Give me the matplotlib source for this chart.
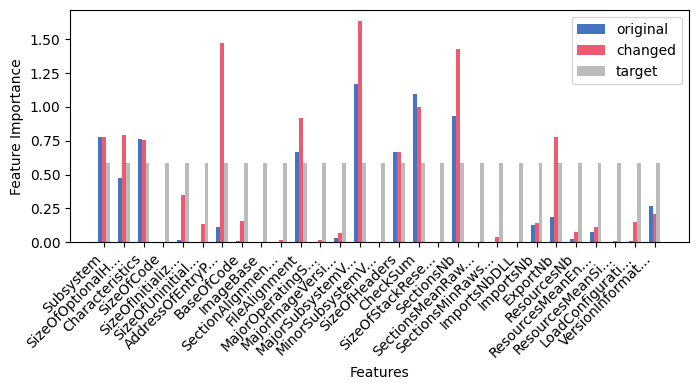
import matplotlib.pyplot as plt
import numpy as np

features = ["Subsystem", "SizeOfOptionalHeader", "Characteristics", "SizeOfCode",
            "SizeOfInitializedData", "SizeOfUninitializedData", "AddressOfEntryPoint",
            "BaseOfCode", "ImageBase", "SectionAlignment", "FileAlignment",
            "MajorOperatingSystemVersion", "MajorImageVersion", "MajorSubsystemVersion",
            "MinorSubsystemVersion", "SizeOfHeaders", "CheckSum", "SizeOfStackReserve",
            "SectionsNb", "SectionsMeanRawsize", "SectionsMinRawsize", "ImportsNbDLL",
            "ImportsNb", "ExportNb", "ResourcesNb", "ResourcesMeanEntropy",
            "ResourcesMeanSize", "LoadConfigurationSize", "VersionInformationSize"]

original = [0.777, 0.474, 0.762, 0.0, 0.017, 0.0, 0.113, 0.010, 0.0, 0.0, 0.666,
            0.0, 0.032, 1.168, 0.0, 0.666, 1.094, 0.0, 0.932, 0.0, 0.0, 0.0,
            0.128, 0.187, 0.025, 0.076, 0.0, 0.010, 0.268]
changed = [0.777, 0.792, 0.755, 0.0, 0.349, 0.135, 1.470, 0.157, 0.0, 0.017, 0.917,
           0.017, 0.069, 1.632, 0.0, 0.666, 0.998, 0.0, 1.426, 0.0, 0.039, 0.0,
           0.143, 0.777, 0.076, 0.113, 0.008, 0.150, 0.209]
target = [0.585] * len(features)

labels = [f if len(f) <= 15 else f[:15] + "..." for f in features]

x = np.arange(len(features))
w = 0.2

fig, ax = plt.subplots(figsize=(6.98, 3.9), dpi=100)
ax.bar(x - w, original, w, color="#4575c0", label="original")
ax.bar(x, changed, w, color="#ee5a70", label="changed")
ax.bar(x + w, target, w, color="#bbbbbb", label="target")
ax.set_xticks(x)
ax.set_xticklabels(labels, rotation=45, ha="right")
ax.set_xlabel("Features")
ax.set_ylabel("Feature Importance")
ax.legend()
fig.subplots_adjust(left=70.3 / 698, right=688.5 / 698, top=1 - 10.3 / 390, bottom=1 - 242.3 / 390)
fig.savefig("out.png")
